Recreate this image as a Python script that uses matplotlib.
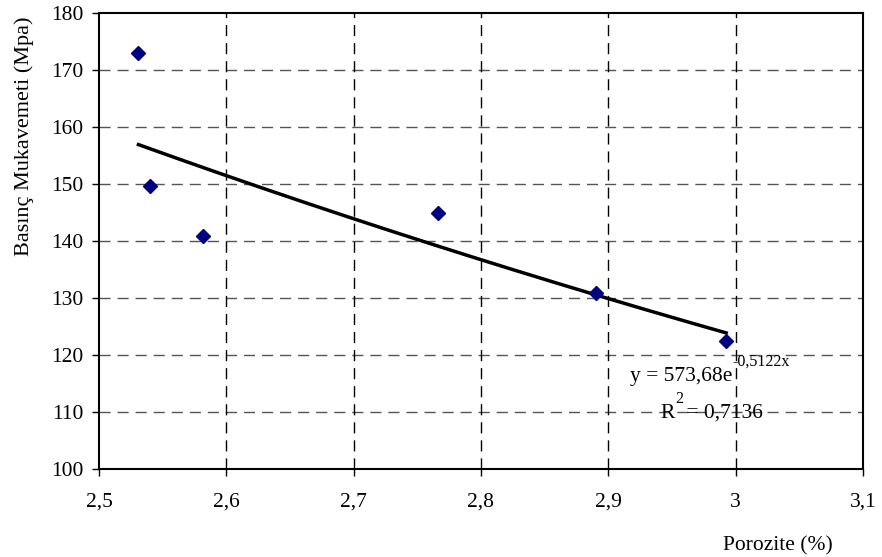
import numpy as np
import matplotlib
matplotlib.use("Agg")
import matplotlib.pyplot as plt
from matplotlib.ticker import FuncFormatter

plt.rcParams['font.family'] = ['Liberation Serif', 'DejaVu Serif']

# Measured samples
porosity = [2.531, 2.540, 2.582, 2.766, 2.890, 2.9925]
strength = [172.9, 149.6, 140.8, 145.0, 130.9, 122.5]

# Exponential trend line y = a * exp(b * x)
fit_a = 573.68
fit_b = -0.5122
fit_r2 = 0.7136

x_ticks = [2.5, 2.6, 2.7, 2.8, 2.9, 3.0, 3.1]
y_ticks = [100, 110, 120, 130, 140, 150, 160, 170, 180]

W, H = 882, 557
fig = plt.figure(figsize=(W / 100, H / 100), dpi=100)
ax = fig.add_axes([99 / W, 1 - 469 / H, (863 - 99) / W, (469 - 13) / H])

ax.set_xlim(x_ticks[0], x_ticks[-1])
ax.set_ylim(y_ticks[0], y_ticks[-1])
ax.set_xticks(x_ticks)
ax.set_yticks(y_ticks)


def comma(v, pos):
    s = ('%.1f' % v).rstrip('0').rstrip('.')
    return s.replace('.', ',')


ax.xaxis.set_major_formatter(FuncFormatter(comma))
ax.yaxis.set_major_formatter(FuncFormatter(lambda v, p: '%d' % v))

# Dashed grid
for yv in y_ticks[1:-1]:
    ax.axhline(yv, color='#555555', lw=1.0, ls=(0, (8, 5)), zorder=1)
for xv in x_ticks[1:-1]:
    ax.axvline(xv, color='black', lw=1.0, ls=(0, (8, 5)), zorder=1)

# Trend line across the sample range
xs = np.linspace(min(porosity), max(porosity), 200)
ax.plot(xs, fit_a * np.exp(fit_b * xs), color='black', lw=2.5, zorder=3)

ax.plot(porosity, strength, ls='none', marker='D', markersize=7.5,
        color='#000080', zorder=4)

for sp in ax.spines.values():
    sp.set_linewidth(1.5)
    sp.set_color('black')

ax.tick_params(axis='both', direction='out', length=5, width=1.0,
               labelsize=15.5, colors='black')
ax.tick_params(axis='x', pad=12)
ax.tick_params(axis='y', pad=6)

# Equation and R² labels
fig.text(630 / W, 1 - 377 / H, 'y = 573,68e', fontsize=15.5, ha='left',
         va='center')
fig.text(732 / W, 1 - 362 / H, '-0,5122x', fontsize=11.5, ha='left',
         va='center')
fig.text(660 / W, 1 - 413 / H, 'R', fontsize=15.5, ha='left', va='center')
fig.text(675 / W, 1 - 399 / H, '2', fontsize=11.5, ha='left', va='center')
fig.text(681 / W, 1 - 413 / H, ' = 0,7136', fontsize=15.5, ha='left',
         va='center')

fig.text(24 / W, 1 - 136 / H, 'Basınç Mukavemeti (Mpa)', fontsize=16,
         rotation=90, ha='center', va='center')
fig.text(778 / W, 1 - 546 / H, 'Porozite (%)', fontsize=15.5, ha='center',
         va='center')

fig.savefig('out.png', dpi=100)
